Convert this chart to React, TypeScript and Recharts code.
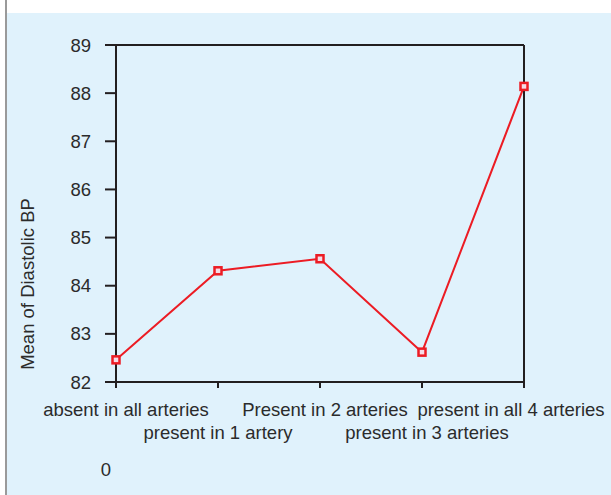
import { LineChart, Line, XAxis, YAxis, ReferenceLine } from "recharts";

const categories = [
  "absent in all arteries",
  "present in 1 artery",
  "Present in 2 arteries",
  "present in 3 arteries",
  "present in all 4 arteries",
];
const meanDiastolic = [82.46, 84.31, 84.56, 82.62, 88.14];
const yTicks = [82, 83, 84, 85, 86, 87, 88, 89];

const data = categories.map((name, i) => ({ name, value: meanDiastolic[i] }));

const INK = "#231f20";
const RED = "#ec1c24";
const TEXT = "#2b2b2b";
const FONT = "'Liberation Sans', Arial, sans-serif";
const FS = 18.5;
// nudges so the outer labels stay inside the panel
const labelShift = [10, 0, 5, 5, -13];

const SquareDot = (props: any) => {
  const { cx, cy } = props;
  if (cx == null || cy == null) return null;
  return (
    <rect
      x={cx - 3.5}
      y={cy - 3.5}
      width={7}
      height={7}
      fill="#f6dbe6"
      stroke={RED}
      strokeWidth={2.5}
    />
  );
};

const StaggerTick = (props: any) => {
  const { x, payload, index } = props;
  const baseline = index % 2 === 0 ? 416 : 439;
  return (
    <text
      x={x + (labelShift[index] ?? 0)}
      y={baseline}
      textAnchor="middle"
      fontSize={FS}
      fontFamily={FONT}
      fill={TEXT}
    >
      {payload.value}
    </text>
  );
};

export default function App() {
  return (
    <div
      style={{
        position: "absolute",
        left: 0,
        top: 0,
        width: 611,
        height: 495,
        background: "#fff",
      }}
    >
      <div
        style={{
          position: "absolute",
          left: 5,
          top: 0,
          width: 2,
          height: 495,
          background: "#9a9a9a",
        }}
      />
      <div
        style={{
          position: "absolute",
          left: 7,
          top: 13,
          width: 604,
          height: 482,
          background: "#e0f2fc",
        }}
      />
      <div style={{ position: "absolute", left: 0, top: 0 }}>
        <LineChart
          width={611}
          height={495}
          data={data}
          margin={{ top: 45, right: 87, bottom: 63, left: 0 }}
        >
          <XAxis
            dataKey="name"
            height={50}
            interval={0}
            stroke={INK}
            strokeWidth={2}
            tickSize={6}
            tick={StaggerTick}
            label={{
              content: () => (
                <text
                  x={106}
                  y={476}
                  textAnchor="middle"
                  fontSize={FS}
                  fontFamily={FONT}
                  fill={TEXT}
                >
                  0
                </text>
              ),
            }}
          />
          <YAxis
            width={116}
            domain={[82, 89]}
            ticks={yTicks}
            interval={0}
            stroke={INK}
            strokeWidth={2}
            tickSize={11}
            tickMargin={14}
            tick={{ fontSize: FS, fontFamily: FONT, fill: TEXT }}
            label={{
              content: () => (
                <text
                  x={34}
                  y={284}
                  transform="rotate(-90, 34, 284)"
                  textAnchor="middle"
                  fontSize={FS}
                  fontFamily={FONT}
                  fill={TEXT}
                >
                  Mean of Diastolic BP
                </text>
              ),
            }}
          />
          <ReferenceLine y={89} stroke={INK} strokeWidth={2} />
          <ReferenceLine x={categories[categories.length - 1]} stroke={INK} strokeWidth={2} />
          <Line
            type="linear"
            dataKey="value"
            stroke={RED}
            strokeWidth={2}
            dot={<SquareDot />}
            activeDot={false}
            isAnimationActive={false}
          />
        </LineChart>
      </div>
    </div>
  );
}
